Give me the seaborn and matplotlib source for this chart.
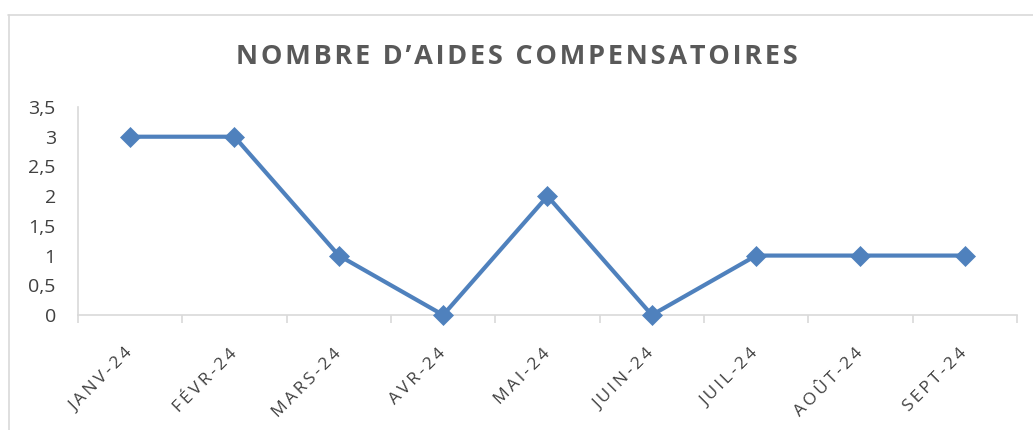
import matplotlib
matplotlib.use("Agg")
import matplotlib.pyplot as plt
import seaborn as sns
import pandas as pd
from matplotlib.lines import Line2D

months = ["JANV-24", "FÉVR-24", "MARS-24", "AVR-24", "MAI-24", "JUIN-24", "JUIL-24", "AOÛT-24", "SEPT-24"]
values = [3, 3, 1, 0, 2, 0, 1, 1, 1]
yticks = [0, 0.5, 1, 1.5, 2, 2.5, 3, 3.5]
ytick_labels = ["0", "0,5", "1", "1,5", "2", "2,5", "3", "3,5"]
title = "NOMBRE D’AIDES COMPENSATOIRES"

sns.set_theme(style="white")
plt.rcParams["font.family"] = ["Open Sans", "DejaVu Sans"]

W, H = 1033, 430
fig = plt.figure(figsize=(W / 100, H / 100), dpi=100)
ax = fig.add_axes([78 / W, 1 - 315 / H, (1017 - 78) / W, (315 - 107) / H])

df = pd.DataFrame({"month": months, "value": values})
df["x"] = range(len(months))
sns.lineplot(data=df, x="x", y="value", ax=ax, color="#4F81BD", linewidth=3.0,
             marker="D", markersize=10.5, markeredgecolor="#4F81BD", markeredgewidth=0.5,
             clip_on=False, zorder=5)

ax.set_xlim(-0.5, len(months) - 0.5)
ax.set_ylim(0, 3.5)
ax.set_yticks(yticks)
ax.set_yticklabels(ytick_labels, fontsize=14, color="#404040")
ax.tick_params(axis="y", length=0, pad=16)

def spaced(s):
    return "\u2009".join(list(s))

ax.set_xticks(range(len(months)))
ax.set_xticklabels([spaced(m) for m in months], rotation=45, ha="right",
                   va="center", rotation_mode="anchor", fontsize=12.5, color="#404040")
ax.tick_params(axis="x", length=0, pad=26)
ax.set_xticks([i - 0.5 for i in range(len(months) + 1)], minor=True)
ax.tick_params(axis="x", which="minor", length=6, width=1.2, color="#D9D9D9", direction="out")
ax.xaxis.set_tick_params(which="minor", bottom=True)

for s in ["top", "right"]:
    ax.spines[s].set_visible(False)
for s in ["left", "bottom"]:
    ax.spines[s].set_color("#D9D9D9")
    ax.spines[s].set_linewidth(1.2)
ax.set_xlabel("")
ax.set_ylabel("")
ax.grid(False)

fig.text(0.5, 1 - 57 / H, "\u200a".join(list(title)),
         ha="center", va="center", fontsize=19.5, fontweight="bold", color="#595959")

# outer chart frame
fig.add_artist(Line2D([8 / W, 1], [1 - 14.5 / H, 1 - 14.5 / H], transform=fig.transFigure,
                      color="#D9D9D9", linewidth=1.2))
fig.add_artist(Line2D([8.5 / W, 8.5 / W], [0, 1 - 14.5 / H], transform=fig.transFigure,
                      color="#D9D9D9", linewidth=1.2))

fig.savefig("out.png", dpi=100)
